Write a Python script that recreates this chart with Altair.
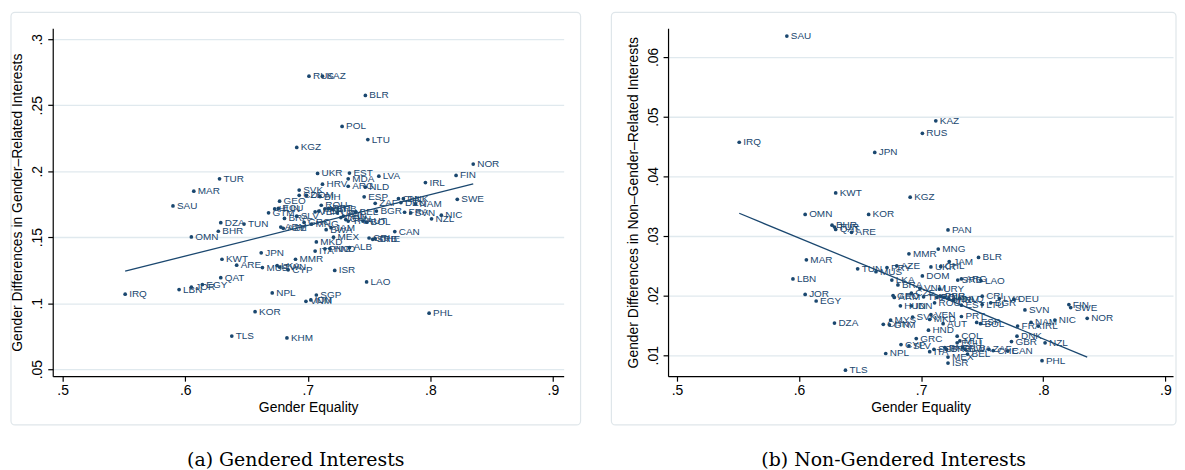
import altair as alt
import pandas as pd

# ---------------- data ----------------
left_codes = ["RUS","KAZ","BLR","POL","LTU","KGZ","NOR","FIN","UKR","EST","MDA","LVA","TUR","IRL",
              "HRV","ARG","NLD","MAR","SVK","CZE","DOM","BIH","ESP","GEO","SAU","ZAF","CHL","DNK",
              "DEU","NAM","SWE","ROU","HUN","ECU","GTM","BGR","FRA","SVN","NIC","NZL","BRA","SLV",
              "VEN","PER","MLT","PRT","BRB","BEL","URY","COL","PAN","CHN","THA","AUT","BOL","DZA",
              "TUN","BHR","OMN","ARM","AZE","GRC","MNG","BWA","JAM","CAN","CRI","CHE","SRB","MEX",
              "MKD","ITA","PNG","HND","ALB","JPN","KWT","MMR","ARE","MUS","LKA","TWN","CYP","ISR",
              "QAT","LAO","EGY","JOR","LBN","IRQ","NPL","SGP","IDN","VNM","KOR","PHL","TLS","KHM"]
left_x = [0.701,0.712,0.747,0.728,0.749,0.691,0.835,0.821,0.708,0.734,0.733,0.758,0.628,0.796,
          0.712,0.733,0.747,0.607,0.693,0.693,0.699,0.710,0.746,0.677,0.590,0.755,0.774,0.778,
          0.776,0.788,0.822,0.711,0.673,0.676,0.668,0.756,0.779,0.784,0.809,0.801,0.681,0.691,
          0.706,0.709,0.714,0.717,0.720,0.739,0.724,0.727,0.729,0.731,0.733,0.745,0.748,0.629,
          0.648,0.627,0.605,0.678,0.680,0.697,0.703,0.715,0.719,0.771,0.750,0.755,0.753,0.721,
          0.707,0.706,0.714,0.718,0.734,0.662,0.630,0.690,0.642,0.663,0.675,0.677,0.684,0.722,
          0.629,0.748,0.614,0.605,0.595,0.551,0.671,0.707,0.7025,0.6985,0.657,0.799,0.638,0.683]
left_y = [0.2720,0.2720,0.2574,0.2339,0.2240,0.2180,0.2054,0.1968,0.1983,0.1986,0.1942,0.1962,0.1942,0.1914,
          0.1902,0.1886,0.1880,0.1849,0.1857,0.1817,0.1817,0.1808,0.1806,0.1773,0.1737,0.1757,0.1792,0.1792,
          0.1762,0.1752,0.1787,0.1742,0.1714,0.1718,0.1685,0.1698,0.1689,0.1684,0.1667,0.1639,0.1642,0.1659,
          0.1692,0.1697,0.1714,0.1718,0.1714,0.1692,0.1685,0.1649,0.1659,0.1634,0.1622,0.1622,0.1614,0.1610,
          0.1600,0.1545,0.1502,0.1577,0.1567,0.1612,0.1599,0.1557,0.1572,0.1543,0.1494,0.1489,0.1484,0.1500,
          0.1464,0.1395,0.1412,0.1414,0.1422,0.1382,0.1333,0.1333,0.1288,0.1270,0.1285,0.1274,0.1253,0.1248,
          0.1193,0.1161,0.1141,0.1121,0.1103,0.1068,0.1078,0.1062,0.1025,0.1014,0.0936,0.0924,0.0751,0.0737]
left_fit_x = [0.551, 0.835]
left_fit_y = [0.1243, 0.1904]

right_codes = ["SAU","KAZ","RUS","IRQ","JPN","KWT","KGZ","OMN","KOR","BHR","TUR","QAT","ARE","PAN",
               "MNG","MMR","BLR","MAR","JAM","TUN","PRY","MUS","AZE","UKR","CHL","LBN","DOM","SRB",
               "ARG","LAO","LKA","BRA","VNM","URY","JOR","EGY","DZA","GEO","ARM","CZE","THA","POL",
               "PER","BIH","MDA","HRV","NLD","HUN","IDN","ROU","EST","CRI","LVA","LTU","BGR","DEU",
               "SVN","FIN","SWE","NOR","NIC","NAM","FRA","IRL","MYS","CHN","GTM","SVK","VEN","MKD",
               "PRT","AUT","ESP","BOL","HND","GRC","COL","DNK","GBR","NZL","CYP","SLV","ECU","MLT",
               "ALB","BWA","SGP","PNG","BRB","ITA","NPL","ZAF","CHE","CAN","MEX","BEL","ISR","PHL","TLS"]
right_x = [0.590,0.712,0.701,0.551,0.662,0.630,0.691,0.605,0.657,0.627,0.629,0.630,0.643,0.722,
           0.714,0.690,0.747,0.606,0.723,0.648,0.672,0.663,0.680,0.708,0.716,0.595,0.701,0.730,
           0.733,0.749,0.676,0.681,0.699,0.715,0.605,0.614,0.629,0.677,0.678,0.692,0.702,0.713,
           0.716,0.719,0.7225,0.7265,0.7317,0.683,0.692,0.711,0.733,0.750,0.764,0.750,0.757,0.776,
           0.785,0.821,0.8225,0.836,0.8095,0.790,0.779,0.796,0.675,0.669,0.674,0.693,0.708,0.707,
           0.733,0.718,0.7455,0.7486,0.706,0.696,0.7295,0.7785,0.774,0.8015,0.6835,0.690,0.7295,0.7317,
           0.7340,0.7360,0.7105,0.7194,0.7209,0.707,0.671,0.7554,0.759,0.771,0.722,0.738,0.722,0.799,0.638]
right_y = [0.0635,0.0493,0.0472,0.0457,0.0440,0.0372,0.0365,0.0336,0.0336,0.0318,0.0315,0.0311,0.0306,0.0310,
           0.0278,0.0270,0.0264,0.0260,0.0257,0.0245,0.0247,0.0240,0.0250,0.0248,0.0249,0.0228,0.0233,0.0226,
           0.0228,0.0225,0.0226,0.0218,0.0212,0.0211,0.0202,0.0191,0.0154,0.0200,0.0197,0.0204,0.0198,0.0197,
           0.0199,0.0197,0.0195,0.0193,0.0195,0.0183,0.0183,0.0188,0.0184,0.0199,0.0195,0.0185,0.0188,0.0194,
           0.0176,0.0185,0.0180,0.0162,0.0159,0.0155,0.0149,0.0149,0.0159,0.0152,0.0151,0.0164,0.0168,0.0160,
           0.0165,0.0153,0.0155,0.0153,0.0142,0.0128,0.0132,0.0132,0.0123,0.0121,0.0118,0.0116,0.0121,0.0124,
           0.0113,0.0110,0.0110,0.0113,0.0110,0.0106,0.0103,0.0110,0.0108,0.0107,0.0097,0.0102,0.0087,0.0091,0.0075]
right_fit_x = [0.551, 0.836]
right_fit_y = [0.0338, 0.0097]

x_ticks = [0.5, 0.6, 0.7, 0.8, 0.9]
left_y_ticks = [0.05, 0.1, 0.15, 0.2, 0.25, 0.3]
right_y_ticks = [0.01, 0.02, 0.03, 0.04, 0.05, 0.06]

# ---------------- style ----------------
NAVY = "#1a476f"
FONT = "Liberation Sans"
SERIF = "DejaVu Serif"
GRID = "#e0e9ee"
FRAME = "#dfe6ea"


def panel(codes, xs, ys, fx, fy, xdom, ydom, yticks, ytitle, caption, width, height, frame):
    df = pd.DataFrame({"code": codes, "ge": xs, "gd": ys})
    fit = pd.DataFrame({"ge": fx, "gd": fy})
    xs_ = alt.Scale(domain=xdom, nice=False, zero=False)
    ys_ = alt.Scale(domain=ydom, nice=False, zero=False)
    xaxis = alt.Axis(values=x_ticks, format=".1f", labelExpr="replace(datum.label, '0.', '.')",
                     grid=False, title="Gender Equality", labelFont=FONT, titleFont=FONT,
                     labelFontSize=14, titleFontSize=14, titleFontWeight="normal",
                     labelColor="black", titleColor="black", domainColor="black", tickColor="black",
                     tickSize=5, labelPadding=2, titlePadding=4, domainWidth=1.2, tickWidth=1.2)
    yaxis = alt.Axis(values=yticks, format=".2~f", labelExpr="replace(datum.label, '0.', '.')",
                     grid=True, gridColor=GRID, gridWidth=1.3, title=ytitle, labelFont=FONT,
                     titleFont=FONT, labelFontSize=14, titleFontSize=14, titleFontWeight="normal",
                     labelColor="black", titleColor="black", domainColor="black", tickColor="black",
                     tickSize=5, labelAngle=270, labelAlign="center", labelBaseline="bottom",
                     labelPadding=3, titlePadding=6, domainWidth=1.2, tickWidth=1.2)
    box = alt.Chart(pd.DataFrame({"k": [0]})).mark_rect(
        fill="white", fillOpacity=0, stroke=FRAME, strokeWidth=1.2, cornerRadius=4
    ).encode(x=alt.value(frame[0]), x2=alt.value(frame[1]),
             y=alt.value(frame[2]), y2=alt.value(frame[3]))
    base = alt.Chart(df)
    line = alt.Chart(fit).mark_line(color=NAVY, strokeWidth=1.3).encode(
        x=alt.X("ge:Q", scale=xs_, axis=xaxis),
        y=alt.Y("gd:Q", scale=ys_, axis=yaxis))
    pts = base.mark_circle(size=14, color=NAVY, opacity=1).encode(
        x=alt.X("ge:Q", scale=xs_, axis=xaxis),
        y=alt.Y("gd:Q", scale=ys_, axis=yaxis))
    txt = base.mark_text(align="left", baseline="middle", dx=4, fontSize=10, font=FONT,
                         color=NAVY).encode(
        x=alt.X("ge:Q", scale=xs_, axis=xaxis),
        y=alt.Y("gd:Q", scale=ys_, axis=yaxis),
        text="code:N")
    return alt.layer(box, line, pts, txt).properties(
        width=width, height=height,
        title=alt.TitleParams(caption, orient="bottom", anchor="middle", frame="bounds",
                              font=SERIF, fontSize=19, fontWeight="normal", color="black",
                              offset=26))


left = panel(left_codes, left_x, left_y, left_fit_x, left_fit_y,
             [0.4919, 0.9088], [0.0447, 0.3083], left_y_ticks,
             "Gender Differences in Gender\u2013Related Interests",
             "(a) Gendered Interests", 514, 350, (-42, 531, -16, 399))
right = panel(right_codes, right_x, right_y, right_fit_x, right_fit_y,
              [0.4927, 0.9063], [0.0065, 0.0648], right_y_ticks,
              "Gender Differences in Non\u2013Gender\u2013Related Interests",
              "(b) Non-Gendered Interests", 508, 350, (-57, 511, -16, 399))

chart = alt.hconcat(left, right, spacing=29).properties(
    padding={"left": 2, "top": 2, "right": 0, "bottom": 0},
    background="white"
).configure_view(strokeWidth=0)

chart.save("out.html", embed_options={"renderer": "svg", "actions": False})
